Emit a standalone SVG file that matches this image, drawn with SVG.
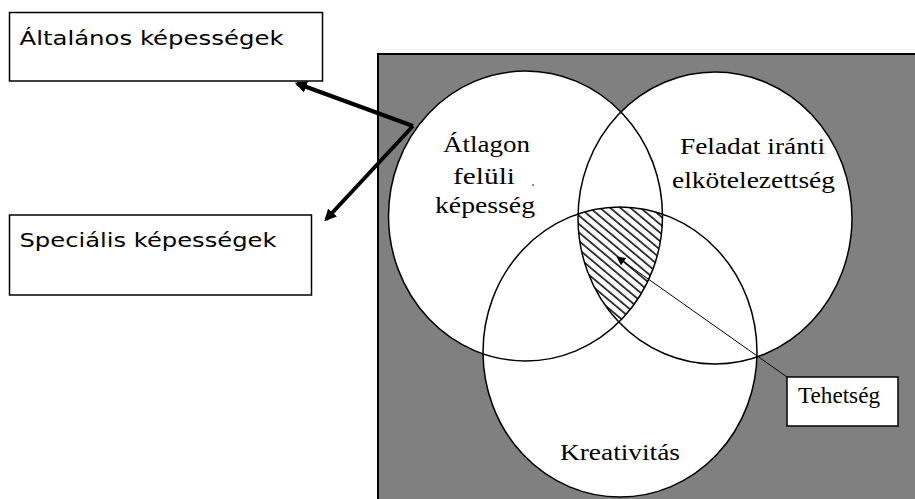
<svg xmlns="http://www.w3.org/2000/svg" width="915" height="499" viewBox="0 0 915 499">
  <style>
    .box { fill: #ffffff; stroke: #000000; stroke-width: 1.5; }
    .sans { font-family: "DejaVu Sans", "Liberation Sans", sans-serif; font-size: 20px; fill: #000; }
    .serif { font-family: "Liberation Serif", "Times New Roman", serif; font-size: 24px; fill: #000; }
    .circ-fill { fill: #ffffff; stroke: none; }
    .circ-line { fill: none; stroke: #000000; stroke-width: 1.5; }
    .thick { stroke: #000000; stroke-width: 4; fill: none; }
    .thin { stroke: #000000; stroke-width: 1; fill: none; }
  </style>
  <defs>
    <marker id="bigArrow" viewBox="0 0 10 10" refX="8" refY="5" markerWidth="3" markerHeight="3" orient="auto" markerUnits="strokeWidth">
      <path d="M0,0 L10,5 L0,10 Z" fill="#000"/>
    </marker>
    <marker id="smallArrow" viewBox="0 0 10 10" refX="9" refY="5" markerWidth="10" markerHeight="9" orient="auto" markerUnits="userSpaceOnUse">
      <path d="M0,0 L10,5 L0,10 Z" fill="#000"/>
    </marker>
    <pattern id="hatch" width="6.5" height="6.5" patternUnits="userSpaceOnUse" patternTransform="rotate(40)">
      <line x1="0" y1="1" x2="6.5" y2="1" stroke="#000" stroke-width="1.5"/>
    </pattern>
    <clipPath id="clipA"><ellipse cx="525.5" cy="216" rx="137" ry="145"/></clipPath>
    <clipPath id="clipB"><ellipse cx="715" cy="218" rx="137" ry="146"/></clipPath>
    <clipPath id="clipC"><ellipse cx="620" cy="352" rx="137" ry="145"/></clipPath>
  </defs>

  <rect width="915" height="499" fill="#ffffff"/>

  <!-- gray background panel -->
  <g id="panel">
    <rect x="378" y="54" width="540" height="450" fill="#808080" stroke="#000" stroke-width="2"/>
  </g>

  <!-- circles -->
  <g id="circle-fills">
    <ellipse class="circ-fill" cx="525.5" cy="216" rx="137" ry="145"/>
    <ellipse class="circ-fill" cx="715" cy="218" rx="137" ry="146"/>
    <ellipse class="circ-fill" cx="620" cy="352" rx="137" ry="145"/>
  </g>
  <g id="hatched-intersection" clip-path="url(#clipA)">
    <g clip-path="url(#clipB)">
      <g clip-path="url(#clipC)">
        <rect x="560" y="200" width="120" height="130" fill="url(#hatch)"/>
      </g>
    </g>
  </g>
  <g id="node-atlagon">
    <ellipse class="circ-line" cx="525.5" cy="216" rx="137" ry="145"/>
    <text class="serif" x="443" y="151.5" textLength="87" lengthAdjust="spacingAndGlyphs">Átlagon</text>
    <text class="serif" x="453" y="184" textLength="62" lengthAdjust="spacingAndGlyphs">felüli</text>
    <text class="serif" x="435" y="213" textLength="100" lengthAdjust="spacingAndGlyphs">képesség</text>
    <circle cx="533" cy="185" r="0.9" fill="#555"/>
  </g>
  <g id="node-feladat">
    <ellipse class="circ-line" cx="715" cy="218" rx="137" ry="146"/>
    <text class="serif" x="680" y="154" textLength="145" lengthAdjust="spacingAndGlyphs">Feladat iránti</text>
    <text class="serif" x="672" y="187.5" textLength="163" lengthAdjust="spacingAndGlyphs">elkötelezettség</text>
  </g>
  <g id="node-kreativitas">
    <ellipse class="circ-line" cx="620" cy="352" rx="137" ry="145"/>
    <text class="serif" x="560" y="460" textLength="120" lengthAdjust="spacingAndGlyphs">Kreativitás</text>
  </g>

  <!-- left boxes -->
  <g id="node-altalanos">
    <rect class="box" x="9.5" y="12.5" width="313" height="68.5"/>
    <text class="sans" x="19.5" y="44.5" textLength="264" lengthAdjust="spacingAndGlyphs">Általános képességek</text>
  </g>
  <g id="node-specialis">
    <rect class="box" x="9.5" y="215" width="302" height="80"/>
    <text class="sans" x="19.5" y="246.5" textLength="257" lengthAdjust="spacingAndGlyphs">Speciális képességek</text>
  </g>

  <!-- Tehetség box -->
  <g id="node-tehetseg">
    <rect class="box" x="787" y="377" width="111" height="49"/>
    <text class="serif" x="798" y="403" textLength="82" lengthAdjust="spacingAndGlyphs">Tehetség</text>
  </g>

  <!-- connectors -->
  <g id="connectors">
    <line class="thick" x1="413" y1="126" x2="297" y2="83.5" marker-end="url(#bigArrow)"/>
    <line class="thick" x1="413" y1="126" x2="326" y2="219.5" marker-end="url(#bigArrow)"/>
    <line class="thin" x1="787" y1="377" x2="617" y2="257" marker-end="url(#smallArrow)"/>
  </g>
</svg>
